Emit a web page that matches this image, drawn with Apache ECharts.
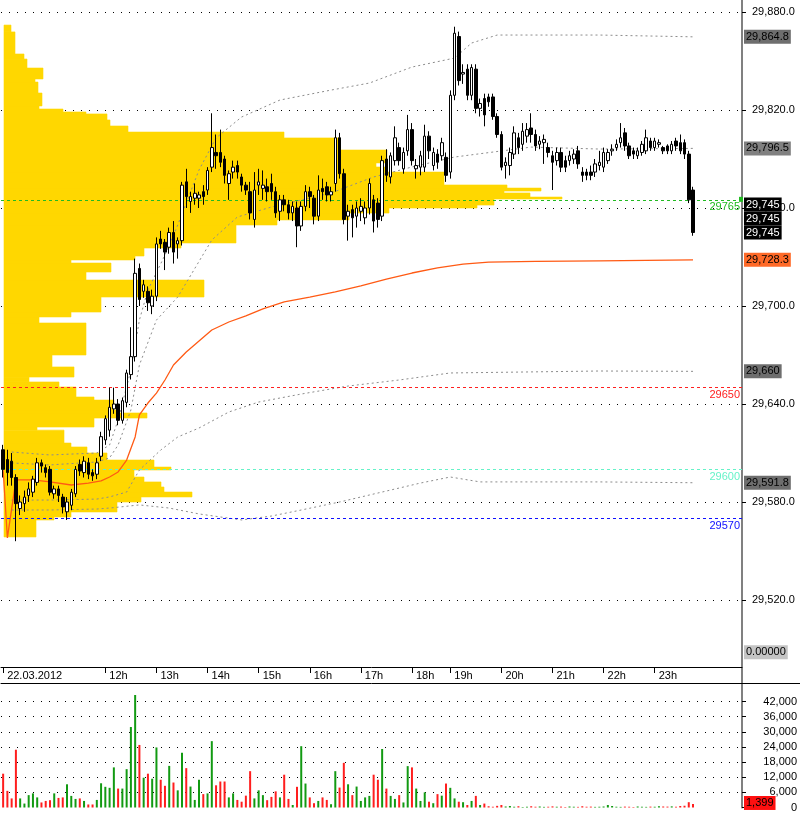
<!DOCTYPE html>
<html><head><meta charset="utf-8">
<script src="https://cdn.jsdelivr.net/npm/echarts@6/dist/echarts.min.js"></script>
<style>html,body{margin:0;padding:0;background:#fff}#c{width:800px;height:813px}</style>
</head><body><div id="c"></div>
<script>
// ---- candles: [open, close, low, high] (5-minute bars) ----
const candles = [
[29612,29600,29595,29615],[29606,29598,29590,29612],[29605,29595,29590,29610],[29595,29579,29556,29597],
[29576,29580,29572,29584],[29579,29583,29574,29587],[29584,29588,29580,29592],[29586,29594,29583,29596],
[29592,29604,29590,29607],[29604,29602,29598,29606],[29601,29598,29595,29603],[29600,29586,29584,29602],
[29585,29588,29582,29590],[29588,29584,29580,29590],[29583,29577,29573,29585],[29574,29580,29569,29583],
[29578,29586,29575,29588],[29585,29600,29583,29602],[29603,29599,29596,29606],[29598,29605,29595,29608],
[29604,29597,29594,29607],[29598,29596,29593,29600],[29597,29604,29594,29607],[29608,29620,29605,29623],
[29618,29631,29615,29633],[29624,29638,29620,29650],[29637,29640,29634,29650],[29640,29630,29627,29643],
[29630,29642,29628,29644],[29641,29659,29638,29661],[29658,29669,29655,29687],[29669,29720,29666,29729],
[29723,29704,29700,29726],[29709,29713,29705,29716],[29709,29702,29697,29712],[29700,29706,29695,29710],
[29706,29738,29703,29742],[29741,29738,29735,29746],[29739,29733,29722,29741],[29736,29745,29732,29748],
[29745,29733,29726,29752],[29738,29740,29729,29742],[29740,29774,29737,29776],[29776,29767,29760,29784],
[29764,29767,29757,29770],[29766,29769,29762,29775],[29766,29768,29760,29770],[29770,29767,29762,29774],
[29771,29783,29768,29785],[29785,29797,29782,29818],[29794,29792,29784,29805],[29794,29788,29785,29808],
[29790,29780,29775,29792],[29775,29781,29765,29783],[29782,29785,29778,29789],[29786,29782,29778,29789],
[29779,29774,29770,29781],[29774,29771,29768,29776],[29770,29757,29753,29776],[29753,29771,29748,29782],
[29774,29776,29768,29784],[29772,29774,29765,29783],[29773,29770,29764,29778],[29775,29770,29765,29781],
[29770,29757,29754,29773],[29758,29765,29752,29768],[29765,29762,29758,29768],[29762,29757,29753,29765],
[29757,29761,29752,29764],[29760,29749,29736,29764],[29749,29761,29746,29764],[29761,29770,29758,29774],
[29770,29767,29760,29773],[29766,29755,29750,29768],[29755,29771,29752,29780],[29772,29770,29765,29778],
[29773,29768,29764,29776],[29768,29770,29764,29773],[29775,29803,29770,29808],[29803,29781,29778,29806],
[29781,29753,29750,29784],[29755,29758,29740,29762],[29759,29754,29742,29762],[29755,29760,29748,29764],
[29758,29761,29752,29766],[29754,29760,29750,29764],[29760,29775,29756,29778],[29765,29752,29745,29768],
[29763,29753,29748,29766],[29755,29789,29752,29792],[29790,29780,29776,29796],[29779,29792,29775,29794],
[29789,29803,29786,29810],[29797,29789,29786,29800],[29784,29794,29781,29797],[29795,29808,29792,29817],
[29808,29789,29786,29812],[29784,29786,29778,29790],[29785,29792,29780,29795],[29785,29804,29782,29811],
[29804,29795,29790,29807],[29786,29794,29783,29797],[29793,29788,29784,29796],[29792,29800,29789,29803],
[29791,29780,29776,29794],[29782,29829,29778,29832],[29829,29867,29826,29871],[29865,29838,29835,29868],
[29842,29843,29836,29848],[29845,29829,29826,29848],[29829,29846,29826,29848],[29845,29821,29818,29848],
[29821,29824,29816,29827],[29827,29817,29810,29830],[29828,29825,29822,29830],[29828,29816,29814,29830],
[29816,29805,29803,29818],[29805,29785,29783,29807],[29786,29788,29778,29791],[29786,29794,29780,29797],
[29793,29806,29790,29810],[29803,29797,29793,29806],[29799,29807,29795,29812],[29804,29808,29800,29812],
[29809,29805,29800,29818],[29805,29798,29795,29808],[29799,29801,29796,29804],[29800,29802,29787,29805],
[29797,29794,29791,29800],[29792,29788,29771,29795],[29789,29794,29786,29797],[29794,29785,29782,29797],
[29789,29785,29782,29792],[29789,29792,29786,29795],[29790,29793,29787,29796],[29795,29787,29784,29798],
[29782,29780,29776,29785],[29782,29780,29777,29784],[29782,29780,29777,29786],[29782,29787,29779,29790],
[29786,29788,29783,29795],[29785,29794,29782,29797],[29789,29794,29787,29796],[29795,29796,29792,29799],
[29797,29799,29795,29802],[29800,29803,29797,29812],[29806,29798,29795,29809],[29798,29792,29790,29800],
[29795,29793,29790,29797],[29792,29795,29790,29797],[29794,29799,29792,29801],[29795,29803,29793,29808],
[29801,29797,29795,29803],[29797,29801,29795,29803],[29799,29800,29797,29802],[29797,29795,29793,29798],
[29798,29795,29793,29799],[29795,29799,29793,29801],[29801,29798,29795,29803],[29800,29795,29793,29805],
[29800,29793,29790,29802],[29793,29765,29763,29795],[29771,29745,29743,29773]
];
// ---- volume per bar ----
const volumes = [
13400,6600,3600,22900,3600,1560,4900,5600,4000,2000,2600,2900,5600,3800,4000,9200,4600,3400,3600,2600,
1200,1200,3000,9600,8200,7800,15900,7500,7500,15200,31900,44600,24800,11800,13400,11400,23800,11000,8600,16500,
9900,6800,21700,15600,8300,3000,11000,5300,5600,26300,8800,10300,10300,4000,5600,3000,2300,4700,14400,3600,
6800,4900,2900,4200,6400,4000,13000,3400,1000,8200,24300,9500,4000,1700,2600,4000,3000,1300,14400,7900,
17700,9200,4900,8300,2600,4000,4600,13000,11000,23200,7500,4600,3400,4900,2000,16400,15900,7500,2600,6000,
2300,1700,5300,4700,9500,7800,3600,2300,2100,1000,2600,4600,1000,1560,500,300,650,1000,400,600,
300,500,200,300,500,300,400,250,300,450,300,350,200,400,300,250,500,300,350,250,
300,400,1000,600,300,250,350,300,200,400,300,250,350,300,500,400,350,450,300,600,
700,2100,1399
];
// ---- session times (hours with a few missing 18h bars) ----
const hour18 = ['18:00','18:05','18:10','18:20','18:25','18:35','18:40','18:50','18:55'];
const emptySlots = 11;
// ---- VWAP and deviation bands: [barIndex, price] ----
const vwap = [[0,29600],[1,29558],[3,29593.5],[7,29593.5],[11,29592.3],[16,29590.4],[20,29591.6],[23,29592.9],
[25,29595.3],[27,29598.4],[29,29605.7],[31,29619.8],[32,29633.3],[34,29640.6],[36,29646.7],[38,29654.7],
[40,29663.9],[43,29671.8],[46,29678.6],[49,29685.3],[53,29690.2],[57,29693.9],[61,29698.2],[66,29702.5],
[72,29705.5],[78,29708.6],[84,29712.3],[90,29716.5],[96,29720.2],[102,29723.3],[108,29725.7],[114,29726.9],
[125,29727.3],[140,29727.6],[162,29728.3]];
const bandUpper2 = [[2,29610.6],[11,29608.8],[22,29610.0],[25,29614.9],[27,29630.2],[30,29660.8],[32,29691.4],
[34,29709.8],[38,29731.2],[41,29749.6],[46,29783.3],[50,29802.9],[56,29815.7],[65,29826.1],[77,29832.2],
[86,29836.5],[96,29846.3],[106,29851.8],[110,29861.0],[116,29865.9],[140,29865.9],[162,29864.8]];
const bandUpper1 = [[2,29603.9],[11,29602.7],[22,29604.5],[25,29607.0],[27,29614.9],[30,29636.3],[32,29663.9],
[36,29691.4],[41,29705.5],[49,29740.4],[55,29754.5],[63,29760.6],[77,29769.2],[87,29779.0],[96,29785.1],
[106,29791.2],[124,29797.3],[140,29796.1],[162,29796.5]];
const bandLower1 = [[2,29581.2],[11,29581.2],[22,29581.8],[25,29583.1],[29,29586.1],[32,29599.6],[37,29611.8],
[41,29619.8],[46,29625.3],[53,29635.1],[60,29641.2],[70,29646.1],[81,29651.0],[93,29654.7],[105,29659.0],
[140,29660.2],[162,29660.0]];
const bandLower2 = [[2,29575.1],[11,29575.1],[22,29575.7],[25,29576.3],[32,29578.2],[39,29576.3],[46,29572.7],
[56,29569.0],[63,29571.4],[70,29575.1],[79,29580.0],[88,29585.5],[98,29591.6],[105,29595.3],[112,29592.3],
[140,29592.3],[162,29591.8]];
// ---- volume profile rows ----
const profHigh = [29872.0,29867.8,29854.3,29851.2,29845.7,29839.0,29837.1,29830.4,29822.5,29820.6,29818.8,29817.6,
29813.9,29810.2,29806.5,29802.9,29795.5,29787.6,29785.1,29782.0,29774.1,29772.2,29770.4,29769.2,29766.7,29765.5,
29761.8,29760.0,29756.9,29752.7,29749.6,29738.6,29735.5,29730.6,29728.2,29726.3,29720.8,29715.9,29705.5,29696.3,
29693.3,29689.6,29670.0,29662.7,29656.5,29653.5,29650.4,29644.3,29642.4,29636.3,29634.5,29631.4,29625.9,29624.0,
29616.1,29613.7,29610.0,29605.7,29601.4,29599.6,29595.3,29592.3,29589.2,29586.1,29583.1,29580.0,29573.9,29570.8,29569.0];
const profLow = [29867.8,29854.3,29851.2,29845.7,29839.0,29837.1,29830.4,29822.5,29820.6,29818.8,29817.6,29813.9,
29810.2,29806.5,29802.9,29795.5,29787.6,29785.1,29782.0,29774.1,29772.2,29770.4,29769.2,29766.7,29765.5,29761.8,
29760.0,29756.9,29752.7,29749.6,29738.6,29735.5,29730.6,29728.2,29726.3,29720.8,29715.9,29705.5,29696.3,29693.3,
29689.6,29670.0,29662.7,29656.5,29653.5,29650.4,29644.3,29642.4,29636.3,29634.5,29631.4,29625.9,29624.0,29616.1,
29613.7,29610.0,29605.7,29601.4,29599.6,29595.3,29592.3,29589.2,29586.1,29583.1,29580.0,29573.9,29570.8,29569.0,29558.6];
const profSize = [7,11,20,23,39,31,34,38,35,59,82,103,106,124,280,335,383,372,383,440,503,537,500,526,558,490,
473,385,345,273,232,177,140,131,67,107,82,200,97,67,35,82,48,70,25,55,72,90,110,113,143,90,33,60,
67,83,103,150,167,130,140,157,160,188,137,113,67,50,32];
// ---- reference levels ----
const refLevels = [29765, 29650, 29600, 29570];
const refColors = ['#22bb22', '#ff2020', '#66f2c8', '#1010ff'];
// ---- right-axis value tags ----
const tagValues = [29864.8, 29796.5, 29728.3, 29660, 29591.8];
const tagBg = ['#6e6e6e', '#808080', '#ff6a28', '#6e6e6e', '#6e6e6e'];
const lastPrice = 29745;
const lastVolume = 1399;

// categories
const hhmm = m => String(Math.floor(m/60)).padStart(2,'0') + ':' + String(m%60).padStart(2,'0');
const cats = [];
for (let i = 0; i < 96; i++) cats.push(hhmm(600 + 5 * i));
hour18.forEach(t => cats.push(t));
for (let i = 0; i < 58; i++) cats.push(hhmm(19*60 + 5 * i));
for (let i = 0; i < emptySlots; i++) cats.push('e' + i);

const grp = s => s.replace(/\B(?=(\d{3})+(?!\d))/g, ',');
const fmt1 = v => { const s = v.toFixed(1).split('.'); return grp(s[0]) + '.' + s[1]; };
const fmt0 = v => grp(String(Math.round(v)));
const isHour = (idx, val) => idx === 0 || (/:00$/.test(val) && val !== '11:00');
const FONT = 'Liberation Sans, Arial, sans-serif';

const chart = echarts.init(document.getElementById('c'), null, {renderer: 'canvas'});
const option = {
  animation: false,
  backgroundColor: '#fff',
  textStyle: {fontFamily: FONT},
  grid: [
    {left: 1, right: 58, top: 0, height: 698},
    {left: 1, right: 58, top: 689, height: 120}
  ],
  xAxis: [
    {type: 'category', gridIndex: 0, data: cats, boundaryGap: true, offset: -31,
     axisLine: {onZero: false, lineStyle: {color: '#000', width: 1}},
     axisTick: {show: true, interval: isHour, length: 6, inside: false, alignWithLabel: true, lineStyle: {color: '#000', width: 1}},
     axisLabel: {interval: isHour, align: 'left', margin: 3, fontSize: 11, color: '#000', padding: [0,0,0,4],
       formatter: (v, i) => (v === '10:00') ? '22.03.2012' : (parseInt(v, 10) + 'h')},
     splitLine: {show: false}},
    {type: 'value', gridIndex: 0, min: 0, max: 741, show: false, axisLine: {onZero: false}},
    {type: 'category', gridIndex: 1, data: cats, boundaryGap: true, position: 'top', offset: 6,
     axisLine: {onZero: false, lineStyle: {color: '#000', width: 1}}, axisTick: {show: false}, axisLabel: {show: false}}
  ],
  yAxis: [
    {type: 'value', gridIndex: 0, position: 'right', min: 29460, max: 29887.35, interval: 60,
     axisLine: {show: true, onZero: false, lineStyle: {color: '#808080', width: 2}},
     axisTick: {show: true, length: 4, lineStyle: {color: '#000'}},
     axisLabel: {margin: 10, fontSize: 11, color: '#000', showMinLabel: false, showMaxLabel: false, formatter: fmt1},
     splitLine: {show: true, showMinLine: false, showMaxLine: false, lineStyle: {color: '#000', type: [1, 7], width: 1}}},
    {type: 'value', gridIndex: 1, position: 'right', min: 0, max: 46970, interval: 6000,
     axisLine: {show: true, onZero: false, lineStyle: {color: '#808080', width: 2}},
     axisTick: {show: true, length: 4, lineStyle: {color: '#000'}},
     axisLabel: {margin: 55, align: 'right', fontSize: 11, color: '#000', showMaxLabel: false, formatter: fmt0},
     splitLine: {show: true, showMinLine: false, showMaxLine: false, lineStyle: {color: '#000', type: [1, 7], width: 1}}}
  ],
  series: [
    {type: 'custom', name: 'profile', xAxisIndex: 1, yAxisIndex: 0, z: 1, silent: true,
     encode: {x: 2, y: [0, 1]},
     data: profLow.map((l, k) => [l, profHigh[k], profSize[k]]),
     renderItem: (params, api) => {
       const p0 = api.coord([0, api.value(1)]);
       const p1 = api.coord([api.value(2), api.value(0)]);
       return {type: 'rect', shape: {x: p0[0] + 3, y: p0[1], width: p1[0] - p0[0], height: p1[1] - p0[1]},
               style: {fill: '#ffd700', stroke: '#ffd700', lineWidth: 0.6}};
     }},
    {type: 'line', name: 'u2', xAxisIndex: 0, yAxisIndex: 0, data: bandUpper2, showSymbol: false, symbol: 'none', z: 4,
     lineStyle: {color: '#8c8c8c', width: 1, type: [2, 3]}},
    {type: 'line', name: 'u1', xAxisIndex: 0, yAxisIndex: 0, data: bandUpper1, showSymbol: false, symbol: 'none', z: 4,
     lineStyle: {color: '#8c8c8c', width: 1, type: [2, 3]}},
    {type: 'line', name: 'l1', xAxisIndex: 0, yAxisIndex: 0, data: bandLower1, showSymbol: false, symbol: 'none', z: 4,
     lineStyle: {color: '#8c8c8c', width: 1, type: [2, 3]}},
    {type: 'line', name: 'l2', xAxisIndex: 0, yAxisIndex: 0, data: bandLower2, showSymbol: false, symbol: 'none', z: 4,
     lineStyle: {color: '#8c8c8c', width: 1, type: [2, 3]}},
    {type: 'line', name: 'vwap', xAxisIndex: 0, yAxisIndex: 0, data: vwap, showSymbol: false, symbol: 'none', z: 4,
     lineStyle: {color: '#ff5a14', width: 1.3}},
    {type: 'candlestick', name: 'price', xAxisIndex: 0, yAxisIndex: 0, data: candles, barWidth: 3, z: 5,
     itemStyle: {color: '#ffffff', color0: '#000000', borderColor: '#000000', borderColor0: '#000000', borderWidth: 1},
     markLine: {silent: true, symbol: 'none', animation: false,
       data: refLevels.map((v, k) => ({yAxis: v,
         lineStyle: {color: refColors[k], type: [3, 3], width: 1.2},
         label: {show: true, position: 'insideEndBottom', formatter: String(v), color: refColors[k], fontSize: 11, distance: 2}}))}},
    {type: 'bar', name: 'volume', xAxisIndex: 2, yAxisIndex: 1, barWidth: 2, z: 3,
     data: volumes.map((v, i) => ({value: v, itemStyle: {color: candles[i][1] >= candles[i][0] ? '#129a12' : '#ff1e1e'}}))}
  ]
};
chart.setOption(option);

// value tags on the right axis, positioned through the axis scales
const py = v => chart.convertToPixel({yAxisIndex: 0}, v);
const tag = (text, y, bg, fg) => ({type: 'text', z: 100, x: 744, y: y,
  style: {text: text, fill: fg, backgroundColor: bg, padding: [2, 2, 1, 2], fontSize: 11, fontFamily: FONT, verticalAlign: 'middle', align: 'left'}});
const g = [];
tagValues.forEach((v, k) => g.push(tag(fmt1(v).replace(/\.0$/, ''), py(v), tagBg[k], '#000')));
const yl = py(lastPrice);
[-28, -14, 0].forEach(d => g.push(tag(fmt0(lastPrice), yl + d, '#000', '#fff')));
g.push(tag('0.00000', py(29488), '#c4c4c4', '#000'));
g.push(tag(fmt0(lastVolume), chart.convertToPixel({yAxisIndex: 1}, lastVolume) - 1, '#ff1010', '#000'));
// small marker at the end of the 29765 level, and the strip line running to the page edge
g.push({type: 'rect', z: 90, shape: {x: 739, y: py(refLevels[0]) - 3, width: 4, height: 5}, style: {fill: refColors[0]}});
g.push({type: 'line', z: 90, shape: {x1: 742, y1: 683.5, x2: 800, y2: 683.5}, style: {stroke: '#000', lineWidth: 1}});
chart.setOption({graphic: g});
</script>
</body></html>
